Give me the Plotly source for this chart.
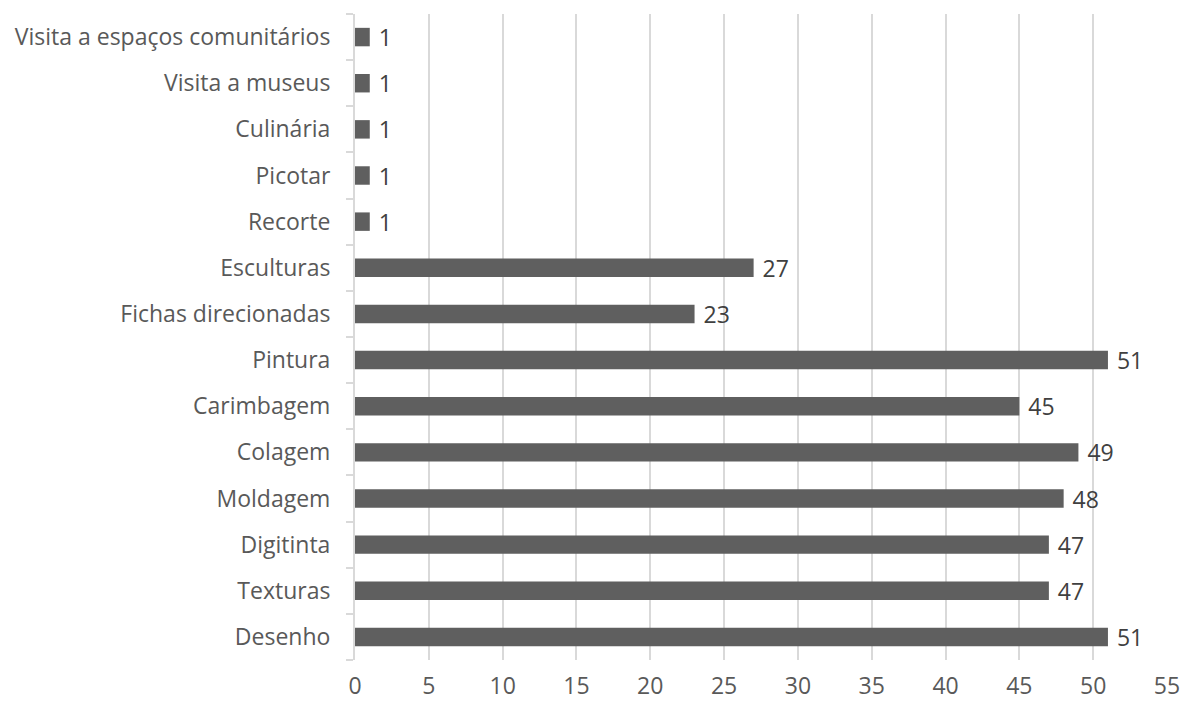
import plotly.graph_objects as go

categories = ["Desenho", "Texturas", "Digitinta", "Moldagem", "Colagem", "Carimbagem",
              "Pintura", "Fichas direcionadas", "Esculturas", "Recorte", "Picotar",
              "Culinária", "Visita a museus", "Visita a espaços comunitários"]
values = [51, 47, 47, 48, 49, 45, 51, 23, 27, 1, 1, 1, 1, 1]
x_ticks = [0, 5, 10, 15, 20, 25, 30, 35, 40, 45, 50, 55]

FS = 23

fig = go.Figure(go.Bar(
    x=values, y=categories, orientation="h",
    marker=dict(color="#5f5f5f", line=dict(width=0)),
    text=[" " + str(v) for v in values], textposition="outside",
    constraintext="none",
    textfont=dict(family="Open Sans", size=FS, color="#404040"),
    cliponaxis=False,
))

fig.update_layout(
    width=1192, height=704,
    margin=dict(l=355, r=25, t=14, b=44, autoexpand=False),
    paper_bgcolor="white", plot_bgcolor="white",
    bargap=0.6, showlegend=False,
    font=dict(family="Open Sans", size=FS, color="#595959"),
)
fig.update_xaxes(range=[0, 55], tickvals=x_ticks, showgrid=True, gridcolor="#d9d9d9",
                 gridwidth=2, zeroline=False, showline=False, ticks="", automargin=False,
                 ticklabelstandoff=10, tickfont=dict(size=FS, color="#595959"))
fig.update_yaxes(categoryorder="array", categoryarray=categories, showline=True,
                 linecolor="#d9d9d9", linewidth=2, ticks="outside", tickson="boundaries",
                 ticklen=7, tickcolor="#d9d9d9", tickwidth=2, showgrid=False, automargin=False,
                 ticklabelstandoff=18, tickfont=dict(size=FS, color="#595959"))

fig.write_html("out.html", config={"displayModeBar": False},
               post_script="document.body.style.margin='0';document.body.style.overflow='hidden';")
